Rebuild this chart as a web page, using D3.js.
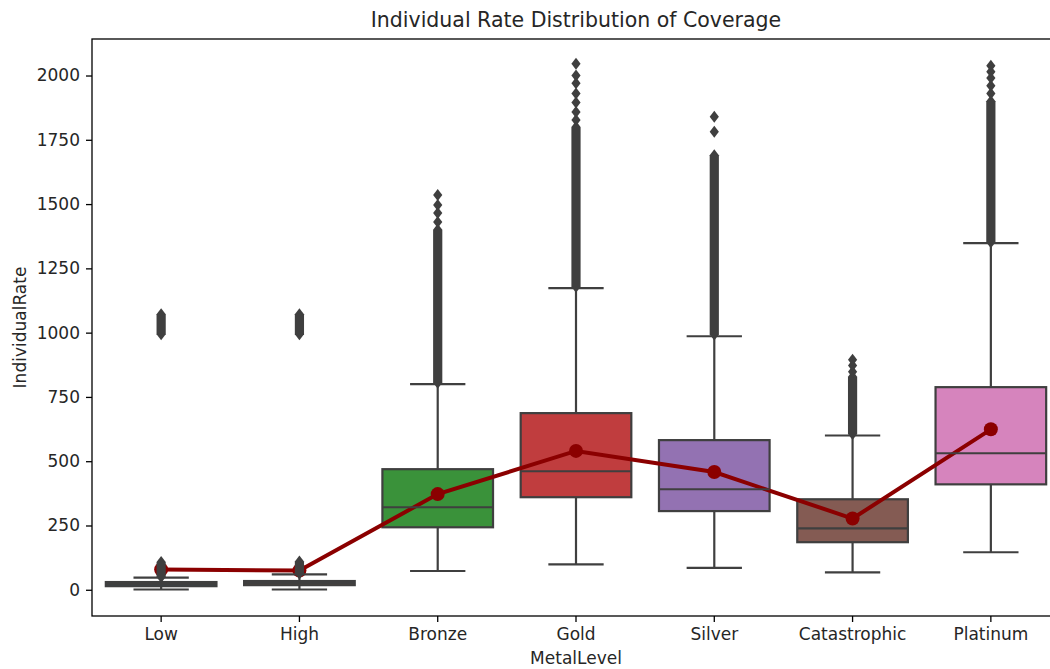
<!DOCTYPE html>
<html>
<head>
<meta charset="utf-8">
<script src="https://cdn.jsdelivr.net/npm/d3@7"></script>
<style>
  body { margin: 0; background: #fff; }
  text { font-family: "DejaVu Sans", sans-serif; fill: #262626; }
</style>
</head>
<body>
<script>
// categories and box statistics
var categories = ["Low", "High", "Bronze", "Gold", "Silver", "Catastrophic", "Platinum"];
var boxColors = ["#3274a1", "#e1812c", "#3a923a", "#c03d3e", "#9372b2", "#845b53", "#d684bd"];
var whiskerLow = [1, 1, 73, 99, 85, 68, 146];
var q1 = [14, 18, 243, 360, 306, 185, 410];
var median = [22, 26, 321, 461, 391, 239, 531];
var q3 = [30, 34, 469, 687, 582, 352, 788];
var whiskerHigh = [47, 60, 800, 1173, 986, 600, 1348];
var means = [79, 75, 372, 540, 458, 277, 624];

// dense outlier runs [from, to] and isolated outliers per category
var outlierRuns = [
  [[50, 108], [994, 1072]],
  [[63, 110], [994, 1072]],
  [[805, 1400]],
  [[1178, 1800]],
  [[993, 1690]],
  [[606, 828]],
  [[1352, 1900]]
];
var outlierPoints = [
  [],
  [],
  [1430, 1465, 1496, 1535],
  [1827, 1858, 1895, 1930, 1970, 2000, 2046],
  [1781, 1840],
  [848, 872, 895],
  [1930, 1960, 1990, 2015, 2038]
];
var yTicks = [0, 250, 500, 750, 1000, 1250, 1500, 1750, 2000];

var margin = { top: 39, left: 92, bottom: 669 - 616, right: 0 },
  plotRight = 1060,
  width = plotRight - margin.left,
  height = 616 - margin.top;

var svg = d3
  .select("body")
  .append("svg")
  .attr("width", 1050)
  .attr("height", 669);

var g = svg
  .append("g")
  .attr("transform", "translate(" + margin.left + "," + margin.top + ")");

var x = d3.scaleBand().domain(categories).range([0, width]);
var y = d3.scaleLinear().domain([-102, 2142]).range([height, 0]);

var boxW = x.bandwidth() * 0.8;
var capW = boxW * 0.5;
var edge = "#3f3f3f";
var cx = function(i) { return x(categories[i]) + x.bandwidth() / 2; };

var stats = categories.map(function(c, i) { return i; });

// boxes
g.selectAll(".box")
  .data(stats)
  .enter()
  .append("rect")
  .attr("class", "box")
  .attr("x", function(i) { return cx(i) - boxW / 2; })
  .attr("width", boxW)
  .attr("y", function(i) { return y(q3[i]); })
  .attr("height", function(i) { return y(q1[i]) - y(q3[i]); })
  .attr("fill", function(i) { return boxColors[i]; })
  .attr("stroke", edge)
  .attr("stroke-width", 2.2);

// mean line and dots
var meanLine = d3
  .line()
  .x(function(d, i) { return cx(i); })
  .y(function(d) { return y(d); });

g.append("path")
  .datum(means)
  .attr("d", meanLine)
  .attr("fill", "none")
  .attr("stroke", "#8b0000")
  .attr("stroke-width", 4);

g.selectAll(".meanDot")
  .data(means)
  .enter()
  .append("circle")
  .attr("class", "meanDot")
  .attr("cx", function(d, i) { return cx(i); })
  .attr("cy", function(d) { return y(d); })
  .attr("r", 7)
  .attr("fill", "#8b0000");

// whiskers
g.selectAll(".whiskerLo")
  .data(stats)
  .enter()
  .append("line")
  .attr("x1", cx).attr("x2", cx)
  .attr("y1", function(i) { return y(q1[i]); })
  .attr("y2", function(i) { return y(whiskerLow[i]); })
  .attr("stroke", edge).attr("stroke-width", 2.2);

g.selectAll(".whiskerHi")
  .data(stats)
  .enter()
  .append("line")
  .attr("x1", cx).attr("x2", cx)
  .attr("y1", function(i) { return y(q3[i]); })
  .attr("y2", function(i) { return y(whiskerHigh[i]); })
  .attr("stroke", edge).attr("stroke-width", 2.2);

// caps
[whiskerLow, whiskerHigh].forEach(function(arr) {
  g.selectAll(null)
    .data(stats)
    .enter()
    .append("line")
    .attr("x1", function(i) { return cx(i) - capW / 2; })
    .attr("x2", function(i) { return cx(i) + capW / 2; })
    .attr("y1", function(i) { return y(arr[i]); })
    .attr("y2", function(i) { return y(arr[i]); })
    .attr("stroke", edge).attr("stroke-width", 2.2);
});

// medians
g.selectAll(".median")
  .data(stats)
  .enter()
  .append("line")
  .attr("x1", function(i) { return cx(i) - boxW / 2; })
  .attr("x2", function(i) { return cx(i) + boxW / 2; })
  .attr("y1", function(i) { return y(median[i]); })
  .attr("y2", function(i) { return y(median[i]); })
  .attr("stroke", edge).attr("stroke-width", 2.2);

// outliers: dense runs are drawn as a column of overlapping diamonds
var dw = 4.6, dh = 6;
stats.forEach(function(i) {
  var c = cx(i);
  outlierRuns[i].forEach(function(run) {
    var top = y(run[1]), bot = y(run[0]);
    g.append("path")
      .attr("d", "M" + c + "," + (top - dh) + "L" + (c + dw) + "," + top +
        "L" + (c + dw) + "," + bot + "L" + c + "," + (bot + dh) +
        "L" + (c - dw) + "," + bot + "L" + (c - dw) + "," + top + "Z")
      .attr("fill", edge);
  });
  g.selectAll(null)
    .data(outlierPoints[i])
    .enter()
    .append("path")
    .attr("d", function(v) {
      var py = y(v);
      return "M" + c + "," + (py - dh) + "L" + (c + dw) + "," + py +
        "L" + c + "," + (py + dh) + "L" + (c - dw) + "," + py + "Z";
    })
    .attr("fill", edge);
});

// frame
g.append("rect")
  .attr("width", width)
  .attr("height", height)
  .attr("fill", "none")
  .attr("stroke", "#000")
  .attr("stroke-width", 1.3);

// axes
var xAxis = g.append("g")
  .attr("transform", "translate(0," + height + ")")
  .call(d3.axisBottom(x).tickSize(6).tickPadding(6).tickSizeOuter(0));
var yAxis = g.append("g")
  .call(d3.axisLeft(y).tickValues(yTicks).tickFormat(d3.format("d"))
    .tickSize(6).tickPadding(6).tickSizeOuter(0));

[xAxis, yAxis].forEach(function(a) {
  a.select(".domain").remove();
  a.selectAll("line").attr("stroke", "#000").attr("stroke-width", 1.3);
  a.selectAll("text")
    .style("font-family", "DejaVu Sans")
    .style("font-size", "17px")
    .attr("fill", "#262626");
});

// title and axis labels
svg.append("text")
  .text("Individual Rate Distribution of Coverage")
  .attr("x", margin.left + width / 2)
  .attr("y", 27)
  .attr("text-anchor", "middle")
  .style("font-size", "20.5px");

svg.append("text")
  .text("MetalLevel")
  .attr("x", margin.left + width / 2)
  .attr("y", 664)
  .attr("text-anchor", "middle")
  .style("font-size", "17px");

svg.append("text")
  .text("IndividualRate")
  .attr("transform", "translate(26," + (margin.top + height / 2) + ") rotate(-90)")
  .attr("text-anchor", "middle")
  .style("font-size", "17px");
</script>
</body>
</html>
